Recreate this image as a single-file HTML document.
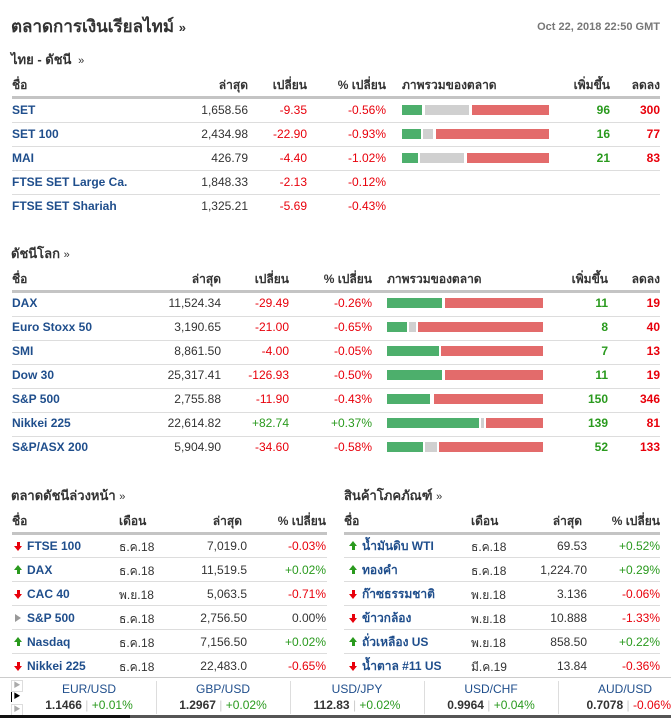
<!DOCTYPE html><html><head><meta charset="utf-8"><style>
body{margin:0;width:671px;height:718px;background:#fff;position:relative;overflow:hidden;font-family:"Liberation Sans","Noto Sans CJK SC",sans-serif}
.t{position:absolute;font-size:12px;line-height:14px;white-space:nowrap;color:#333}
.n{color:#1f4e8c;font-weight:bold}
.h{font-weight:bold;color:#333}
.r{color:#e8000b}.g{color:#2a9a1e}
.bl{font-weight:bold}
.l{position:absolute;height:1px;background:#ddd}
.tl{position:absolute;height:3px;background:#c4c4c4}
.b{position:absolute;height:10px}
.bg{background:#4daf6c}.bgr{background:#d0d0d0}.br{background:#e36b6b}
.ar{position:absolute;width:8px;height:10px}
.ar i{position:absolute;left:3px;width:3px;height:4px}
.ar b{position:absolute;left:0;width:0;height:0;border-left:4.5px solid transparent;border-right:4.5px solid transparent}
.up i{top:5px;background:#2a9a1e}.up b{top:0;border-bottom:5px solid #2a9a1e}
.dn i{top:1px;background:#e8000b}.dn b{top:5px;border-top:5px solid #e8000b}
.eq{position:absolute;width:0;height:0;border-top:4px solid transparent;border-bottom:4px solid transparent;border-left:6px solid #999}
</style></head><body>
<div class="t" style="left:11px;top:16px;font-size:17px;line-height:22px;font-weight:bold;color:#333">ตลาดการเงินเรียลไทม์ <span style="font-size:13px">»</span></div>
<div class="t" style="right:11px;top:20px;font-size:11px;color:#777;font-weight:bold">Oct 22, 2018 22:50 GMT</div>
<div class="t" style="left:11px;top:52px;font-size:13px;line-height:16px;font-weight:bold">ไทย - ดัชนี <span style="font-weight:normal;font-size:11px">&nbsp;»</span></div>

<div class="t h" style="left:12px;top:78px">ชื่อ</div>
<div class="t h" style="right:423px;top:78px">ล่าสุด</div>
<div class="t h" style="right:364px;top:78px">เปลี่ยน</div>
<div class="t h" style="right:285px;top:78px">% เปลี่ยน</div>
<div class="t h" style="left:402px;top:78px">ภาพรวมของตลาด</div>
<div class="t h" style="right:61px;top:78px">เพิ่มขึ้น</div>
<div class="t h" style="right:11px;top:78px">ลดลง</div>
<div class="tl" style="left:12px;width:648px;top:96px"></div>
<div class="l" style="left:12px;width:648px;top:122px"></div>
<div class="l" style="left:12px;width:648px;top:146px"></div>
<div class="l" style="left:12px;width:648px;top:170px"></div>
<div class="l" style="left:12px;width:648px;top:194px"></div>

<div class="t n" style="left:12px;top:103px">SET</div><div class="t" style="right:423px;top:103px">1,658.56</div><div class="t r" style="right:364px;top:103px">-9.35</div><div class="t r" style="right:285px;top:103px">-0.56%</div><div class="t g bl" style="right:61px;top:103px">96</div><div class="t r bl" style="right:11px;top:103px">300</div>
<div class="b bg" style="left:402px;width:20px;top:105px"></div><div class="b bgr" style="left:425px;width:44px;top:105px"></div><div class="b br" style="left:472px;width:77px;top:105px"></div>

<div class="t n" style="left:12px;top:127px">SET 100</div><div class="t" style="right:423px;top:127px">2,434.98</div><div class="t r" style="right:364px;top:127px">-22.90</div><div class="t r" style="right:285px;top:127px">-0.93%</div><div class="t g bl" style="right:61px;top:127px">16</div><div class="t r bl" style="right:11px;top:127px">77</div>
<div class="b bg" style="left:402px;width:19px;top:129px"></div><div class="b bgr" style="left:423px;width:10px;top:129px"></div><div class="b br" style="left:436px;width:113px;top:129px"></div>

<div class="t n" style="left:12px;top:151px">MAI</div><div class="t" style="right:423px;top:151px">426.79</div><div class="t r" style="right:364px;top:151px">-4.40</div><div class="t r" style="right:285px;top:151px">-1.02%</div><div class="t g bl" style="right:61px;top:151px">21</div><div class="t r bl" style="right:11px;top:151px">83</div>
<div class="b bg" style="left:402px;width:16px;top:153px"></div><div class="b bgr" style="left:420px;width:44px;top:153px"></div><div class="b br" style="left:467px;width:82px;top:153px"></div>

<div class="t n" style="left:12px;top:175px">FTSE SET Large Ca.</div><div class="t" style="right:423px;top:175px">1,848.33</div><div class="t r" style="right:364px;top:175px">-2.13</div><div class="t r" style="right:285px;top:175px">-0.12%</div>
<div class="t n" style="left:12px;top:199px">FTSE SET Shariah</div><div class="t" style="right:423px;top:199px">1,325.21</div><div class="t r" style="right:364px;top:199px">-5.69</div><div class="t r" style="right:285px;top:199px">-0.43%</div>

<div class="t" style="left:11px;top:246px;font-size:13px;line-height:16px;font-weight:bold">ดัชนีโลก <span style="font-weight:normal;font-size:11px">»</span></div>
<div class="t h" style="left:12px;top:272px">ชื่อ</div>
<div class="t h" style="right:450px;top:272px">ล่าสุด</div>
<div class="t h" style="right:382px;top:272px">เปลี่ยน</div>
<div class="t h" style="right:299px;top:272px">% เปลี่ยน</div>
<div class="t h" style="left:387px;top:272px">ภาพรวมของตลาด</div>
<div class="t h" style="right:63px;top:272px">เพิ่มขึ้น</div>
<div class="t h" style="right:11px;top:272px">ลดลง</div>
<div class="tl" style="left:12px;width:648px;top:290px"></div>
<div class="l" style="left:12px;width:648px;top:316px"></div>
<div class="l" style="left:12px;width:648px;top:340px"></div>
<div class="l" style="left:12px;width:648px;top:364px"></div>
<div class="l" style="left:12px;width:648px;top:388px"></div>
<div class="l" style="left:12px;width:648px;top:412px"></div>
<div class="l" style="left:12px;width:648px;top:436px"></div>

<div class="t n" style="left:12px;top:296px">DAX</div><div class="t" style="right:450px;top:296px">11,524.34</div><div class="t r" style="right:382px;top:296px">-29.49</div><div class="t r" style="right:299px;top:296px">-0.26%</div><div class="t g bl" style="right:63px;top:296px">11</div><div class="t r bl" style="right:11px;top:296px">19</div>
<div class="b bg" style="left:387px;width:55px;top:298px"></div><div class="b br" style="left:445px;width:98px;top:298px"></div>

<div class="t n" style="left:12px;top:320px">Euro Stoxx 50</div><div class="t" style="right:450px;top:320px">3,190.65</div><div class="t r" style="right:382px;top:320px">-21.00</div><div class="t r" style="right:299px;top:320px">-0.65%</div><div class="t g bl" style="right:63px;top:320px">8</div><div class="t r bl" style="right:11px;top:320px">40</div>
<div class="b bg" style="left:387px;width:20px;top:322px"></div><div class="b bgr" style="left:409px;width:7px;top:322px"></div><div class="b br" style="left:418px;width:125px;top:322px"></div>

<div class="t n" style="left:12px;top:344px">SMI</div><div class="t" style="right:450px;top:344px">8,861.50</div><div class="t r" style="right:382px;top:344px">-4.00</div><div class="t r" style="right:299px;top:344px">-0.05%</div><div class="t g bl" style="right:63px;top:344px">7</div><div class="t r bl" style="right:11px;top:344px">13</div>
<div class="b bg" style="left:387px;width:52px;top:346px"></div><div class="b br" style="left:441px;width:102px;top:346px"></div>

<div class="t n" style="left:12px;top:368px">Dow 30</div><div class="t" style="right:450px;top:368px">25,317.41</div><div class="t r" style="right:382px;top:368px">-126.93</div><div class="t r" style="right:299px;top:368px">-0.50%</div><div class="t g bl" style="right:63px;top:368px">11</div><div class="t r bl" style="right:11px;top:368px">19</div>
<div class="b bg" style="left:387px;width:55px;top:370px"></div><div class="b br" style="left:445px;width:98px;top:370px"></div>

<div class="t n" style="left:12px;top:392px">S&amp;P 500</div><div class="t" style="right:450px;top:392px">2,755.88</div><div class="t r" style="right:382px;top:392px">-11.90</div><div class="t r" style="right:299px;top:392px">-0.43%</div><div class="t g bl" style="right:63px;top:392px">150</div><div class="t r bl" style="right:11px;top:392px">346</div>
<div class="b bg" style="left:387px;width:43px;top:394px"></div><div class="b br" style="left:434px;width:109px;top:394px"></div>

<div class="t n" style="left:12px;top:416px">Nikkei 225</div><div class="t" style="right:450px;top:416px">22,614.82</div><div class="t g" style="right:382px;top:416px">+82.74</div><div class="t g" style="right:299px;top:416px">+0.37%</div><div class="t g bl" style="right:63px;top:416px">139</div><div class="t r bl" style="right:11px;top:416px">81</div>
<div class="b bg" style="left:387px;width:92px;top:418px"></div><div class="b bgr" style="left:481px;width:3px;top:418px"></div><div class="b br" style="left:486px;width:57px;top:418px"></div>

<div class="t n" style="left:12px;top:440px">S&amp;P/ASX 200</div><div class="t" style="right:450px;top:440px">5,904.90</div><div class="t r" style="right:382px;top:440px">-34.60</div><div class="t r" style="right:299px;top:440px">-0.58%</div><div class="t g bl" style="right:63px;top:440px">52</div><div class="t r bl" style="right:11px;top:440px">133</div>
<div class="b bg" style="left:387px;width:36px;top:442px"></div><div class="b bgr" style="left:425px;width:12px;top:442px"></div><div class="b br" style="left:439px;width:104px;top:442px"></div>

<div class="t" style="left:11px;top:488px;font-size:13px;line-height:16px;font-weight:bold">ตลาดดัชนีล่วงหน้า <span style="font-weight:normal;font-size:11px">»</span></div>
<div class="t h" style="left:12px;top:514px">ชื่อ</div>
<div class="t h" style="left:119px;top:514px">เดือน</div>
<div class="t h" style="right:429px;top:514px">ล่าสุด</div>
<div class="t h" style="right:345px;top:514px">% เปลี่ยน</div>
<div class="tl" style="left:12px;width:315px;top:532px"></div>
<div class="l" style="left:12px;width:315px;top:557px"></div>
<div class="l" style="left:12px;width:315px;top:581px"></div>
<div class="l" style="left:12px;width:315px;top:605px"></div>
<div class="l" style="left:12px;width:315px;top:629px"></div>
<div class="l" style="left:12px;width:315px;top:653px"></div>

<div class="ar dn" style="left:14px;top:541px"><i></i><b></b></div><div class="t n" style="left:27px;top:539px">FTSE 100</div><div class="t" style="left:119px;top:540px">ธ.ค.18</div><div class="t" style="right:424px;top:539px">7,019.0</div><div class="t r" style="right:345px;top:539px">-0.03%</div>
<div class="ar up" style="left:14px;top:565px"><i></i><b></b></div><div class="t n" style="left:27px;top:563px">DAX</div><div class="t" style="left:119px;top:564px">ธ.ค.18</div><div class="t" style="right:424px;top:563px">11,519.5</div><div class="t g" style="right:345px;top:563px">+0.02%</div>
<div class="ar dn" style="left:14px;top:589px"><i></i><b></b></div><div class="t n" style="left:27px;top:587px">CAC 40</div><div class="t" style="left:119px;top:588px">พ.ย.18</div><div class="t" style="right:424px;top:587px">5,063.5</div><div class="t r" style="right:345px;top:587px">-0.71%</div>
<div class="eq" style="left:15px;top:614px"></div><div class="t n" style="left:27px;top:611px">S&amp;P 500</div><div class="t" style="left:119px;top:612px">ธ.ค.18</div><div class="t" style="right:424px;top:611px">2,756.50</div><div class="t" style="right:345px;top:611px">0.00%</div>
<div class="ar up" style="left:14px;top:637px"><i></i><b></b></div><div class="t n" style="left:27px;top:635px">Nasdaq</div><div class="t" style="left:119px;top:636px">ธ.ค.18</div><div class="t" style="right:424px;top:635px">7,156.50</div><div class="t g" style="right:345px;top:635px">+0.02%</div>
<div class="ar dn" style="left:14px;top:661px"><i></i><b></b></div><div class="t n" style="left:27px;top:659px">Nikkei 225</div><div class="t" style="left:119px;top:660px">ธ.ค.18</div><div class="t" style="right:424px;top:659px">22,483.0</div><div class="t r" style="right:345px;top:659px">-0.65%</div>

<div class="t" style="left:344px;top:488px;font-size:13px;line-height:16px;font-weight:bold">สินค้าโภคภัณฑ์ <span style="font-weight:normal;font-size:11px">»</span></div>
<div class="t h" style="left:344px;top:514px">ชื่อ</div>
<div class="t h" style="left:471px;top:514px">เดือน</div>
<div class="t h" style="right:89px;top:514px">ล่าสุด</div>
<div class="t h" style="right:11px;top:514px">% เปลี่ยน</div>
<div class="tl" style="left:344px;width:316px;top:532px"></div>
<div class="l" style="left:344px;width:316px;top:557px"></div>
<div class="l" style="left:344px;width:316px;top:581px"></div>
<div class="l" style="left:344px;width:316px;top:605px"></div>
<div class="l" style="left:344px;width:316px;top:629px"></div>
<div class="l" style="left:344px;width:316px;top:653px"></div>

<div class="ar up" style="left:349px;top:541px"><i></i><b></b></div><div class="t n" style="left:362px;top:539px">น้ำมันดิบ WTI</div><div class="t" style="left:471px;top:540px">ธ.ค.18</div><div class="t" style="right:84px;top:539px">69.53</div><div class="t g" style="right:11px;top:539px">+0.52%</div>
<div class="ar up" style="left:349px;top:565px"><i></i><b></b></div><div class="t n" style="left:362px;top:563px">ทองคำ</div><div class="t" style="left:471px;top:564px">ธ.ค.18</div><div class="t" style="right:84px;top:563px">1,224.70</div><div class="t g" style="right:11px;top:563px">+0.29%</div>
<div class="ar dn" style="left:349px;top:589px"><i></i><b></b></div><div class="t n" style="left:362px;top:587px">ก๊าซธรรมชาติ</div><div class="t" style="left:471px;top:588px">พ.ย.18</div><div class="t" style="right:84px;top:587px">3.136</div><div class="t r" style="right:11px;top:587px">-0.06%</div>
<div class="ar dn" style="left:349px;top:613px"><i></i><b></b></div><div class="t n" style="left:362px;top:611px">ข้าวกล้อง</div><div class="t" style="left:471px;top:612px">พ.ย.18</div><div class="t" style="right:84px;top:611px">10.888</div><div class="t r" style="right:11px;top:611px">-1.33%</div>
<div class="ar up" style="left:349px;top:637px"><i></i><b></b></div><div class="t n" style="left:362px;top:635px">ถั่วเหลือง US</div><div class="t" style="left:471px;top:636px">พ.ย.18</div><div class="t" style="right:84px;top:635px">858.50</div><div class="t g" style="right:11px;top:635px">+0.22%</div>
<div class="ar dn" style="left:349px;top:661px"><i></i><b></b></div><div class="t n" style="left:362px;top:659px">น้ำตาล #11 US</div><div class="t" style="left:471px;top:660px">มี.ค.19</div><div class="t" style="right:84px;top:659px">13.84</div><div class="t r" style="right:11px;top:659px">-0.36%</div>

<div style="position:absolute;left:0;top:677px;width:671px;height:1px;background:#ccc"></div>
<div style="position:absolute;left:11px;top:680px;width:10px;height:10px;border:1px solid #ddd;font-size:7px;color:#aaa;line-height:10px;text-align:center">▶</div>
<div style="position:absolute;left:11px;top:692px;width:10px;height:10px;font-size:7px;color:#000;line-height:10px;text-align:center;border-left:1px solid #000">▶</div>
<div style="position:absolute;left:11px;top:704px;width:10px;height:10px;border:1px solid #ddd;font-size:7px;color:#aaa;line-height:10px;text-align:center">▶</div>
<div style="position:absolute;left:0;top:715px;width:130px;height:3px;background:#111"></div>
<div style="position:absolute;left:130px;top:715px;width:541px;height:3px;background:#555"></div>

<div style="position:absolute;left:156px;top:681px;width:1px;height:33px;background:#ddd"></div>
<div style="position:absolute;left:290px;top:681px;width:1px;height:33px;background:#ddd"></div>
<div style="position:absolute;left:424px;top:681px;width:1px;height:33px;background:#ddd"></div>
<div style="position:absolute;left:558px;top:681px;width:1px;height:33px;background:#ddd"></div>

<div class="t" style="left:22px;width:134px;text-align:center;top:682px;color:#1f4e8c">EUR/USD</div>
<div class="t" style="left:22px;width:134px;text-align:center;top:698px"><b>1.1466</b> <span style="color:#ccc">|</span> <span class="g">+0.01%</span></div>
<div class="t" style="left:156px;width:134px;text-align:center;top:682px;color:#1f4e8c">GBP/USD</div>
<div class="t" style="left:156px;width:134px;text-align:center;top:698px"><b>1.2967</b> <span style="color:#ccc">|</span> <span class="g">+0.02%</span></div>
<div class="t" style="left:290px;width:134px;text-align:center;top:682px;color:#1f4e8c">USD/JPY</div>
<div class="t" style="left:290px;width:134px;text-align:center;top:698px"><b>112.83</b> <span style="color:#ccc">|</span> <span class="g">+0.02%</span></div>
<div class="t" style="left:424px;width:134px;text-align:center;top:682px;color:#1f4e8c">USD/CHF</div>
<div class="t" style="left:424px;width:134px;text-align:center;top:698px"><b>0.9964</b> <span style="color:#ccc">|</span> <span class="g">+0.04%</span></div>
<div class="t" style="left:558px;width:134px;text-align:center;top:682px;color:#1f4e8c">AUD/USD</div>
<div class="t" style="left:558px;width:113px;text-align:right;top:698px"><b>0.7078</b> <span style="color:#ccc">|</span> <span class="r">-0.06%</span></div>
</body></html>
